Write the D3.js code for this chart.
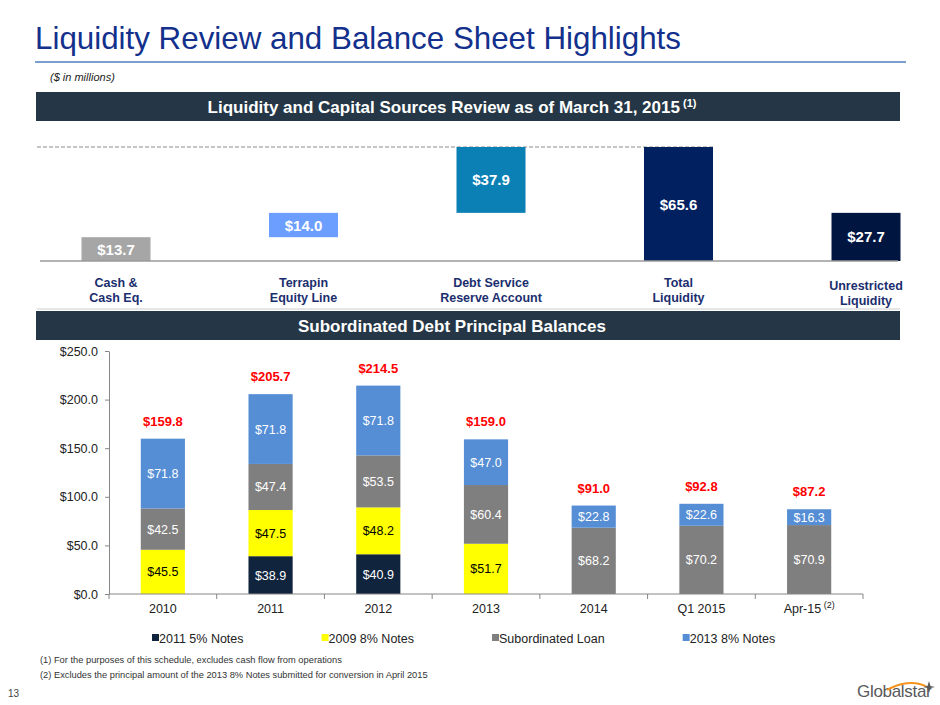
<!DOCTYPE html>
<html>
<head>
<meta charset="utf-8">
<script src="https://cdn.jsdelivr.net/npm/d3@7"></script>
<style>
  body { margin: 0; background: #fff; }
  svg { display: block; font-family: "Liberation Sans", Arial, sans-serif; }
</style>
</head>
<body>
<div id="container"></div>
<script>
/**
 * DATA
 * */
// liquidity waterfall ($ in millions)
const liqLabels = [["Cash &", "Cash Eq."], ["Terrapin", "Equity Line"], ["Debt Service", "Reserve Account"], ["Total", "Liquidity"], ["Unrestricted", "Liquidity"]];
const liqValues = [13.7, 14.0, 37.9, 65.6, 27.7];
const liqIsTotal = [false, false, false, true, true];
const liqColors = ["#A6A6A6", "#6C9EFF", "#0A80B5", "#002060", "#001641"];

// subordinated debt principal balances
const years = ["2010", "2011", "2012", "2013", "2014", "Q1 2015", "Apr-15"];
const seriesNames = ["2011 5% Notes", "2009 8% Notes", "Subordinated Loan", "2013 8% Notes"];
const notes2011 = [0, 38.9, 40.9, 0, 0, 0, 0];
const notes2009 = [45.5, 47.5, 48.2, 51.7, 0, 0, 0];
const subLoan = [42.5, 47.4, 53.5, 60.4, 68.2, 70.2, 70.9];
const notes2013 = [71.8, 71.8, 71.8, 47.0, 22.8, 22.6, 16.3];
const totals = [159.8, 205.7, 214.5, 159.0, 91.0, 92.8, 87.2];
const yTicks = [0, 50, 100, 150, 200, 250];
const seriesColors = ["#10243E", "#FFFF00", "#7F7F7F", "#558ED5"];
const labelColors = ["#fff", "#000", "#fff", "#fff"];

const width = 940, height = 705;
const navy = "#1B2E6E";

const svg = d3.select("#container")
  .append("svg")
  .attr("width", width)
  .attr("height", height);

/**
 * HEADER
 * */
svg.append("text")
  .attr("x", 35).attr("y", 49)
  .attr("font-size", 30.5)
  .attr("fill", "#12308C")
  .attr("textLength", 646).attr("lengthAdjust", "spacingAndGlyphs")
  .text("Liquidity Review and Balance Sheet Highlights");

svg.append("line")
  .attr("x1", 35).attr("x2", 906).attr("y1", 62).attr("y2", 62)
  .attr("stroke", "#4F81BD").attr("stroke-width", 1.5);

svg.append("text")
  .attr("x", 50).attr("y", 81)
  .attr("font-size", 11).attr("font-style", "italic").attr("fill", "#222")
  .text("($ in millions)");

function banner(y, label, sup) {
  svg.append("rect")
    .attr("x", 36).attr("y", y).attr("width", 864).attr("height", 29)
    .attr("fill", "#253746");
  const t = svg.append("text")
    .attr("x", 452).attr("y", y + 21)
    .attr("text-anchor", "middle")
    .attr("font-size", 17).attr("font-weight", "bold").attr("fill", "#fff")
    .text(label);
  if (sup) {
    t.append("tspan").attr("font-size", 11).attr("dy", -6).text(" " + sup);
  }
}
banner(92, "Liquidity and Capital Sources Review as of March 31, 2015", "(1)");
banner(311, "Subordinated Debt Principal Balances");

/**
 * LIQUIDITY WATERFALL
 * */
let running = 0;
const liqBars = liqValues.map((v, i) => {
  let lo, hi;
  if (liqIsTotal[i]) { lo = 0; hi = v; }
  else { lo = running; hi = running + v; running += v; }
  return { i, v, lo, hi };
});

const xW = d3.scalePoint().domain(d3.range(liqValues.length)).range([116, 866]);
const yW = d3.scaleLinear().domain([0, d3.max(liqValues)]).range([261, 147]);
const barW = 69;

// dashed reference at total liquidity
svg.append("line")
  .attr("x1", 37).attr("x2", xW(3) + barW / 2)
  .attr("y1", yW(d3.max(liqValues))).attr("y2", yW(d3.max(liqValues)))
  .attr("stroke", "#8C8C8C").attr("stroke-dasharray", "4,2").attr("stroke-width", 1);

svg.append("g")
  .selectAll("rect")
  .data(liqBars)
  .join("rect")
  .attr("x", d => xW(d.i) - barW / 2)
  .attr("width", barW)
  .attr("y", d => yW(d.hi))
  .attr("height", d => yW(d.lo) - yW(d.hi))
  .attr("fill", d => liqColors[d.i]);

svg.append("g")
  .selectAll("text")
  .data(liqBars)
  .join("text")
  .attr("x", d => xW(d.i))
  .attr("y", d => (yW(d.lo) + yW(d.hi)) / 2 + 5.5)
  .attr("text-anchor", "middle")
  .attr("font-size", 15).attr("font-weight", "bold").attr("fill", "#fff")
  .text(d => "$" + d.v.toFixed(1));

// baseline and separator
svg.append("line")
  .attr("x1", 40).attr("x2", 898).attr("y1", yW(0)).attr("y2", yW(0))
  .attr("stroke", "#9A9A9A").attr("stroke-width", 1.5);
svg.append("line")
  .attr("x1", 37).attr("x2", 900).attr("y1", 309).attr("y2", 309)
  .attr("stroke", "#C8CCCF").attr("stroke-width", 1);

svg.append("g")
  .selectAll("text")
  .data(liqLabels)
  .join("text")
  .attr("x", (d, i) => xW(i))
  .attr("y", (d, i) => i === 4 ? 290 : 287)
  .attr("text-anchor", "middle")
  .attr("font-size", 12.5).attr("font-weight", "bold").attr("fill", navy)
  .selectAll("tspan")
  .data(d => d)
  .join("tspan")
  .attr("x", function () { return this.parentNode.getAttribute("x"); })
  .attr("dy", (d, j) => j === 0 ? 0 : 15)
  .text(d => d);

/**
 * SUBORDINATED DEBT STACKED BARS
 * */
const seriesData = [notes2011, notes2009, subLoan, notes2013];
const rows = years.map((yr, i) => {
  const r = { year: yr };
  seriesNames.forEach((s, k) => { r[s] = seriesData[k][i]; });
  return r;
});
const stacked = d3.stack().keys(seriesNames)(rows);

const x = d3.scaleBand().domain(years).range([109, 863])
  .paddingInner(0.59).paddingOuter(0.295);
const y = d3.scaleLinear().domain([0, 250]).range([594, 351]);

const layers = svg.append("g")
  .selectAll("g")
  .data(stacked)
  .join("g")
  .attr("fill", (d, k) => seriesColors[k]);

layers.selectAll("rect")
  .data(d => d.filter(p => p[1] - p[0] > 0))
  .join("rect")
  .attr("x", d => x(d.data.year))
  .attr("width", x.bandwidth())
  .attr("y", d => y(d[1]))
  .attr("height", d => y(d[0]) - y(d[1]));

layers.selectAll("text")
  .data(d => d.filter(p => p[1] - p[0] > 0))
  .join("text")
  .attr("x", d => x(d.data.year) + x.bandwidth() / 2)
  .attr("y", d => (y(d[0]) + y(d[1])) / 2 + 4.5)
  .attr("text-anchor", "middle")
  .attr("font-size", 12.5)
  .attr("fill", function () { return labelColors[stacked.indexOf(d3.select(this.parentNode).datum())]; })
  .text(d => "$" + (d[1] - d[0]).toFixed(1));

// totals
svg.append("g")
  .selectAll("text")
  .data(totals)
  .join("text")
  .attr("x", (d, i) => x(years[i]) + x.bandwidth() / 2)
  .attr("y", (d, i) => y(d3.sum(seriesData, s => s[i])) - 13)
  .attr("text-anchor", "middle")
  .attr("font-size", 13).attr("font-weight", "bold").attr("fill", "#FF0000")
  .text(d => "$" + d.toFixed(1));

// y axis
const yAxis = svg.append("g")
  .attr("transform", "translate(109,0)")
  .call(d3.axisLeft(y).tickValues(yTicks).tickFormat(d => "$" + d.toFixed(1))
    .tickSize(4).tickSizeOuter(0).tickPadding(7));
yAxis.select(".domain").attr("stroke", "#868686");
yAxis.selectAll(".tick line").attr("stroke", "#868686");
yAxis.selectAll(".tick text").attr("font-size", 12.5).attr("fill", "#222")
  .attr("font-family", "Liberation Sans, Arial, sans-serif");

// x axis with ticks between categories
const xAxis = svg.append("g").attr("transform", "translate(0,594)");
xAxis.append("line")
  .attr("x1", 109).attr("x2", 863)
  .attr("stroke", "#868686");
xAxis.selectAll(".sep")
  .data(d3.range(years.length + 1))
  .join("line")
  .attr("class", "sep")
  .attr("x1", i => 109 + i * x.step()).attr("x2", i => 109 + i * x.step())
  .attr("y1", 0).attr("y2", 5)
  .attr("stroke", "#868686");
const xLab = xAxis.selectAll(".lab")
  .data(years)
  .join("text")
  .attr("class", "lab")
  .attr("x", d => x(d) + x.bandwidth() / 2)
  .attr("y", 19)
  .attr("text-anchor", "middle")
  .attr("font-size", 12.5).attr("fill", "#222")
  .text(d => d);
xLab.filter(d => d === "Apr-15")
  .append("tspan").attr("font-size", 9).attr("dy", -5).text(" (2)");

// legend
const legend = svg.append("g").attr("transform", "translate(152,638)");
let lx = 0;
seriesNames.forEach((s, k) => {
  legend.append("rect")
    .attr("x", lx).attr("y", -4).attr("width", 7).attr("height", 7)
    .attr("fill", seriesColors[k]);
  const t = legend.append("text")
    .attr("x", lx + 7).attr("y", 4.5)
    .attr("font-size", 12.5).attr("fill", "#222")
    .text(s);
  lx += 7 + t.node().getComputedTextLength() + 78;
});

/**
 * FOOTER
 * */
svg.append("text")
  .attr("x", 40).attr("y", 663)
  .attr("font-size", 9.3).attr("fill", "#333")
  .text("(1) For the purposes of this schedule, excludes cash flow from operations");
svg.append("text")
  .attr("x", 40).attr("y", 678)
  .attr("font-size", 9.3).attr("fill", "#333")
  .text("(2) Excludes the principal amount of the 2013 8% Notes submitted for conversion in April 2015");
svg.append("text")
  .attr("x", 8).attr("y", 697)
  .attr("font-size", 10).attr("fill", "#444")
  .text("13");

// logo
const logo = svg.append("g").attr("transform", "translate(857,697)");
logo.append("text")
  .attr("font-size", 17).attr("fill", "#58595B")
  .attr("letter-spacing", -0.3)
  .text("Globalstar");
logo.append("path")
  .attr("d", "M30,-7 C42,-14 58,-17 70,-10")
  .attr("fill", "none").attr("stroke", "#F7941D").attr("stroke-width", 1.8);
logo.append("path")
  .attr("d", "M72,-16 L73.5,-11 L78,-10 L73.5,-9 L72,-4 L70.5,-9 L66,-10 L70.5,-11 Z")
  .attr("fill", "#58595B");
</script>
</body>
</html>
